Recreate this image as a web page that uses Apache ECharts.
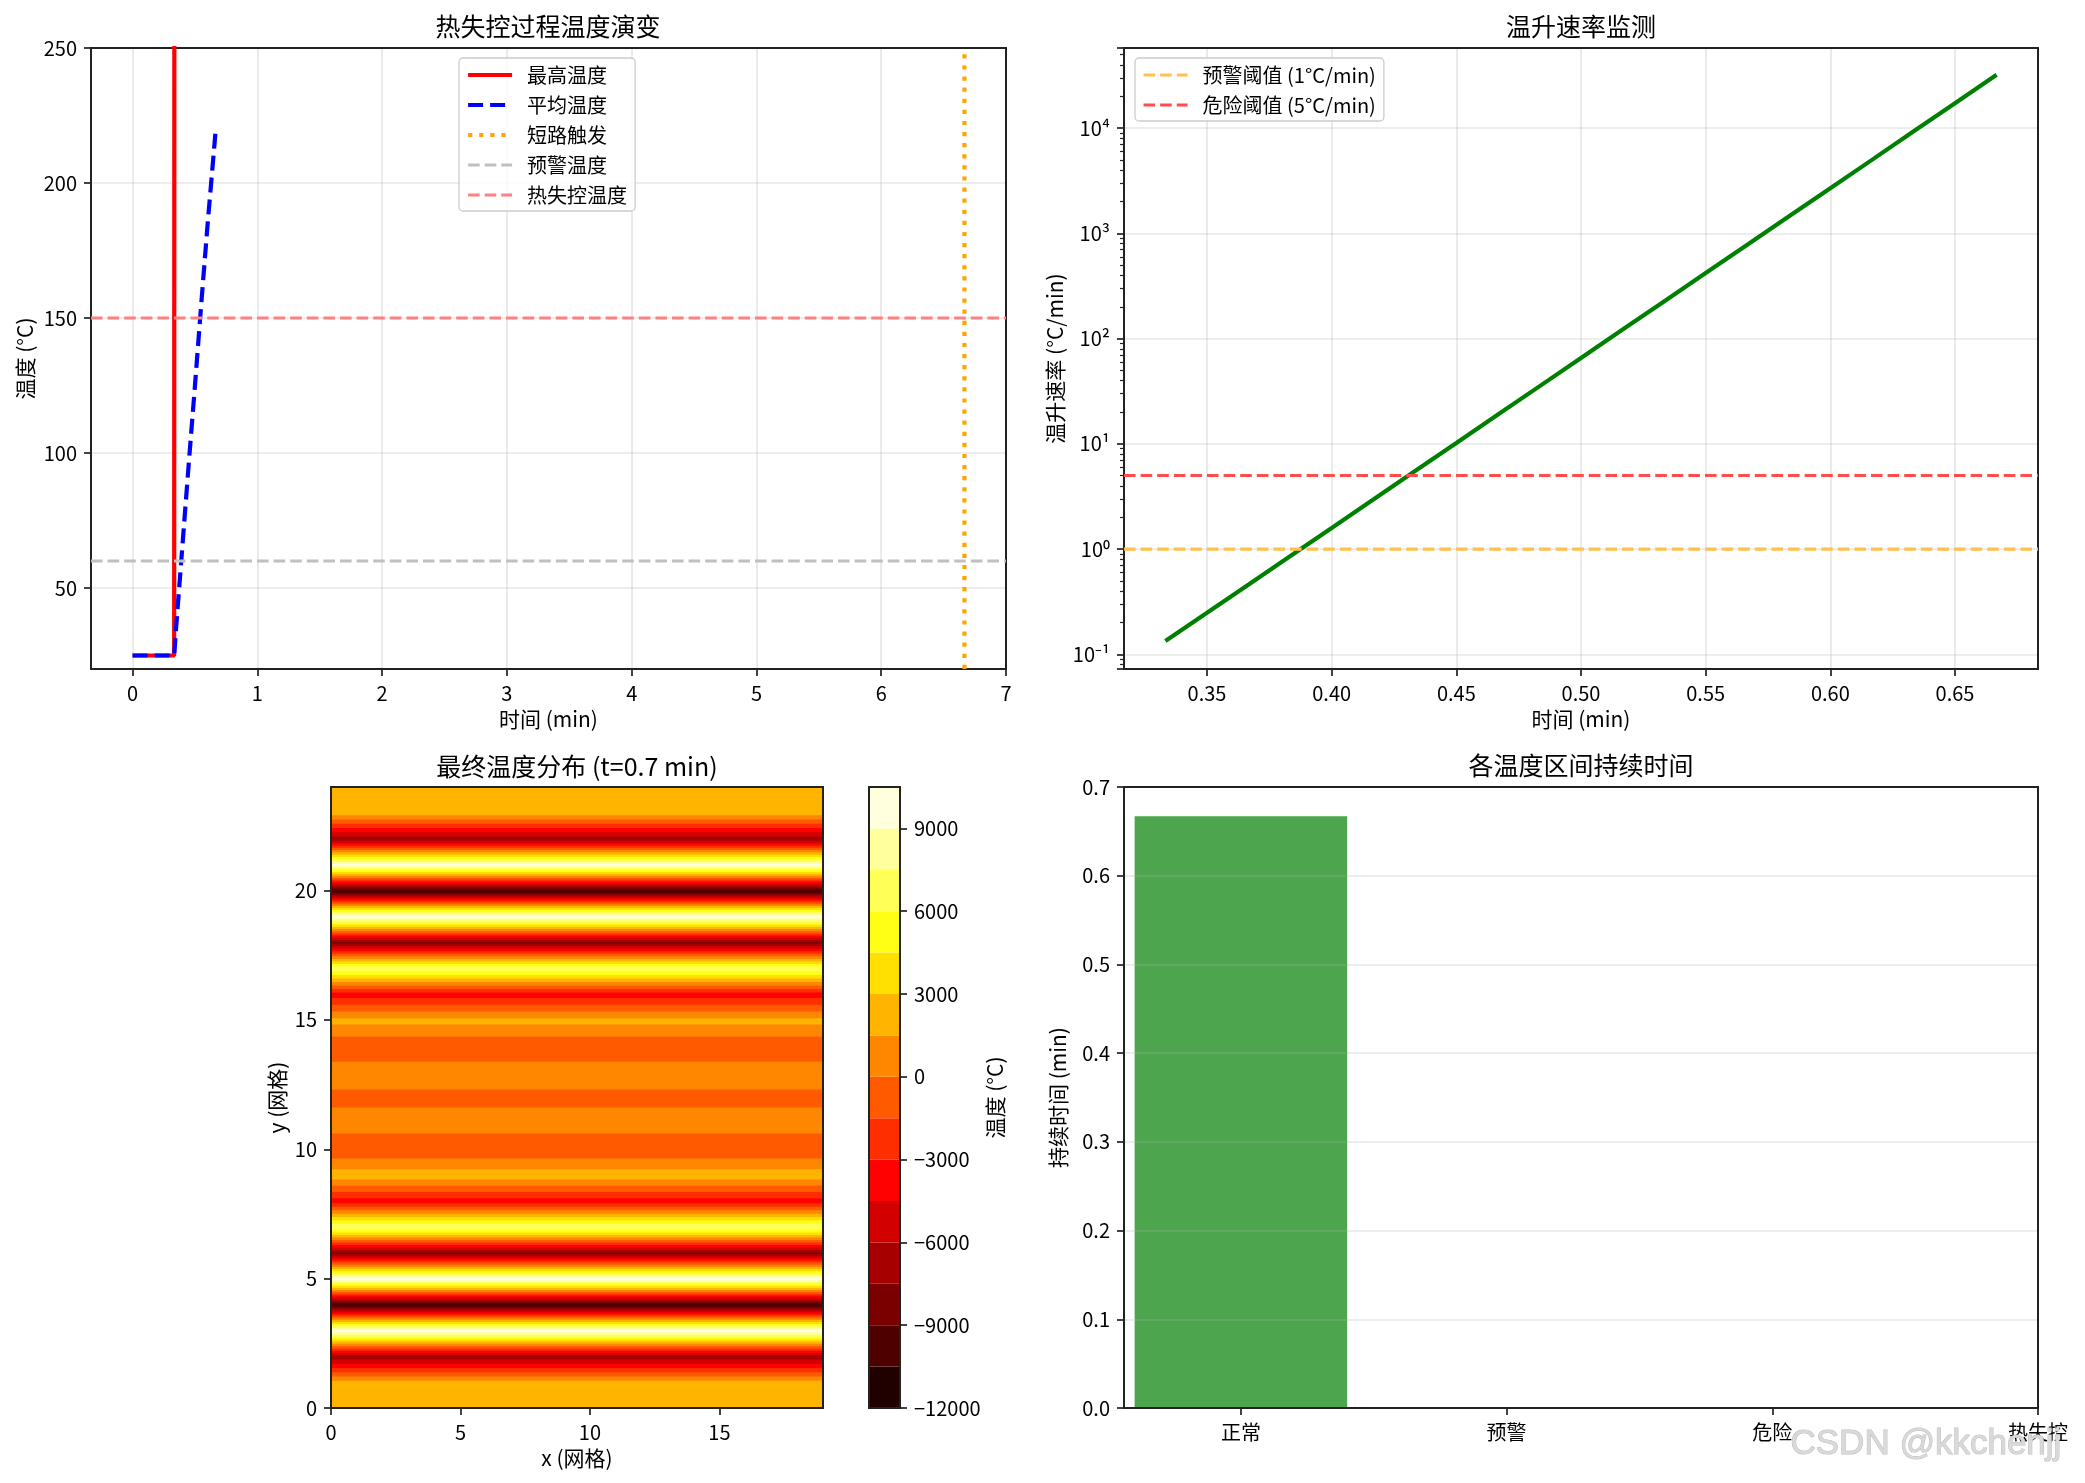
<!DOCTYPE html>
<html>
<head>
<meta charset="utf-8">
<title>热失控仿真</title>
<script src="https://cdn.jsdelivr.net/npm/echarts@6.0.0/dist/echarts.min.js"></script>
<style>
  html, body { margin: 0; padding: 0; background: #fff; }
  #chart { width: 2085px; height: 1483px; }
</style>
</head>
<body>
<div id="chart"></div>
<script>
// ---------- data ----------
// 热失控过程温度演变
const timeMax = [0, 0.3333, 0.35];
const tempMax = [25, 25, 3000];
const timeAvg = [0, 0.3333, 0.35, 0.40, 0.45, 0.50, 0.55, 0.60, 0.6667];
const tempAvg = [25, 25, 36, 66, 96, 125, 155, 184, 220];
const shortCircuitTime = 6.667;
const warnTemp = 60;
const runawayTemp = 150;
const tempXTicks = [0, 1, 2, 3, 4, 5, 6, 7];
const tempYTicks = [50, 100, 150, 200, 250];

// 温升速率监测
const rateTime = [0.3333, 0.35, 0.3667, 0.3833, 0.40, 0.4167, 0.4333, 0.45, 0.4667, 0.4833, 0.50,
                  0.5167, 0.5333, 0.55, 0.5667, 0.5833, 0.60, 0.6167, 0.6333, 0.65, 0.6667];
const rateValue = [0.134, 0.248, 0.461, 0.857, 1.59, 2.96, 5.50, 10.2, 19.0, 35.2, 65.5,
                   122, 226, 420, 780, 1449, 2692, 5000, 9290, 17260, 32140];
const warnRate = 1;
const dangerRate = 5;
const rateXTicks = [0.35, 0.40, 0.45, 0.50, 0.55, 0.60, 0.65];

// 最终温度分布 (每一行 y 的温度)
const gridX = [0, 19];
const gridY = [0, 1, 2, 3, 4, 5, 6, 7, 8, 9, 10, 11, 12, 13, 14, 15, 16, 17, 18, 19, 20, 21, 22, 23, 24];
const rowTemp = [2200, 2200, -7000, 10000, -10400, 10000, -8000, 7500, -3800, 2400, -1200, 700, -400,
                 800, -1200, 2000, -3800, 7200, -8000, 10000, -10400, 9800, -7000, 2200, 2200];
const cbLevels = [-12000, -10500, -9000, -7500, -6000, -4500, -3000, -1500, 0,
                  1500, 3000, 4500, 6000, 7500, 9000, 10500];
const mapXTicks = [0, 5, 10, 15];
const mapYTicks = [0, 5, 10, 15, 20];
const cbTicks = [-12000, -9000, -6000, -3000, 0, 3000, 6000, 9000];

// 各温度区间持续时间
const zoneNames = ['正常', '预警', '危险', '热失控'];
const zoneDuration = [0.667, 0, 0, 0];
const zoneTicks = [0, 1, 2, 3];

// ---------- styles ----------
const FONT = '"Noto Sans CJK SC", "Noto Sans", sans-serif';
const AX = '#222';
const GRIDC = 'rgba(176,176,176,0.3)';
const hotColors = ['#210000', '#4e0000', '#7a0000', '#a70000', '#d30000', '#ff0100', '#ff2e00', '#ff5a00',
                   '#ff8700', '#ffb400', '#ffe000', '#ffff15', '#ffff58', '#ffff9b', '#ffffde'];

function bandColor(v) {
  for (let i = 0; i + 1 < cbLevels.length; i++) {
    if (v >= cbLevels[i] && v < cbLevels[i + 1]) return hotColors[i];
  }
  return v < cbLevels[0] ? hotColors[0] : hotColors[hotColors.length - 1];
}

function minusFmt(v) {
  return v < 0 ? '\u2212' + Math.abs(v) : String(v);
}

const supDigits = { '-': '\u207b', '0': '\u2070', '1': '\u00b9', '2': '\u00b2', '3': '\u00b3', '4': '\u2074',
                    '5': '\u2075', '6': '\u2076', '7': '\u2077', '8': '\u2078', '9': '\u2079' };
function logFmt(v) {
  const e = Math.log10(v);
  if (Math.abs(e - Math.round(e)) > 1e-6) return '';
  return '10' + String(Math.round(e)).split('').map(c => supDigits[c]).join('');
}

function axis(gridIndex, min, max, ticks, name, nameGap, extra) {
  const a = {
    type: 'value', gridIndex: gridIndex, min: min, max: max,
    name: name, nameLocation: 'middle', nameGap: nameGap,
    nameTextStyle: { color: '#000', fontSize: 21, fontFamily: FONT },
    axisLine: { show: true, onZero: false, lineStyle: { color: AX, width: 1.7 } },
    axisTick: { show: true, inside: false, length: 7, lineStyle: { color: AX, width: 1.7 } },
    axisLabel: { color: '#000', fontSize: 20, fontFamily: FONT, margin: 14 },
    splitLine: { show: true, lineStyle: { color: GRIDC, width: 1.7 } }
  };
  if (ticks) {
    a.axisTick.customValues = ticks;
    a.axisLabel.customValues = ticks;
  }
  if (extra) {
    Object.keys(extra).forEach(k => {
      if (typeof extra[k] === 'object' && !Array.isArray(extra[k]) && a[k]) Object.assign(a[k], extra[k]);
      else a[k] = extra[k];
    });
  }
  return a;
}

const lineSeries = (name, xi, yi, xs, ys, color, width, type, z) => ({
  name: name, type: 'line', xAxisIndex: xi, yAxisIndex: yi,
  data: xs.map((x, i) => [x, ys[i]]),
  symbol: 'none', clip: true, z: z || 2,
  lineStyle: { color: color, width: width, type: type || 'solid' },
  itemStyle: { color: color }
});

const p1X = [-0.3333, 7];
const p1Y = [20, 250];
const p2X = [0.3167, 0.6833];

const mapSegments = [];
for (let j = 0; j + 1 < gridY.length; j++) {
  mapSegments.push([gridY[j], gridY[j + 1], rowTemp[j], rowTemp[j + 1]]);
}
const cbBands = [];
for (let i = 0; i + 1 < cbLevels.length; i++) cbBands.push([cbLevels[i], cbLevels[i + 1]]);

const legendCommon = {
  orient: 'vertical', itemWidth: 44, itemHeight: 14, itemGap: 10, z: 20,
  padding: [7, 8, 6, 7], backgroundColor: 'rgba(255,255,255,0.8)',
  borderColor: '#cccccc', borderWidth: 1.3, borderRadius: 4, selectedMode: false,
  itemStyle: { opacity: 0, color: 'rgba(0,0,0,0)', borderWidth: 0 },
  textStyle: { fontSize: 20, lineHeight: 20, fontFamily: FONT, color: '#000', padding: [0, 0, 0, 10] }
};
const legendItem = (name, width) => ({ name: name, lineStyle: { width: width } });

const titleStyle = { fontSize: 25, fontWeight: 'normal', color: '#000', fontFamily: FONT };
const frame = { show: true, borderColor: AX, borderWidth: 2, backgroundColor: 'transparent', z: 3, outerBoundsMode: 'none' };

const option = {
  animation: false,
  backgroundColor: '#fff',
  textStyle: { fontFamily: FONT },
  title: [
    { text: '热失控过程温度演变', left: 548, top: 14, textAlign: 'center', padding: 0, textStyle: titleStyle },
    { text: '温升速率监测', left: 1581, top: 14, textAlign: 'center', padding: 0, textStyle: titleStyle },
    { text: '最终温度分布 (t=0.7 min)', left: 577, top: 754, textAlign: 'center', padding: 0, textStyle: titleStyle },
    { text: '各温度区间持续时间', left: 1581, top: 753, textAlign: 'center', padding: 0, textStyle: titleStyle }
  ],
  legend: [
    Object.assign({ left: 459, top: 58, data: [
      legendItem('最高温度', 4.2), legendItem('平均温度', 4.2), legendItem('短路触发', 4.2),
      legendItem('预警温度', 3.1), legendItem('热失控温度', 3.1)] }, legendCommon),
    Object.assign({ left: 1135, top: 58, data: [
      legendItem('预警阈值 (1°C/min)', 3.1), legendItem('危险阈值 (5°C/min)', 3.1)] }, legendCommon)
  ],
  grid: [
    Object.assign({ left: 91, top: 48, width: 915, height: 621 }, frame),
    Object.assign({ left: 1124, top: 48, width: 914, height: 621 }, frame),
    Object.assign({ left: 331, top: 787, width: 492, height: 621 }, frame),
    Object.assign({ left: 869, top: 787, width: 31, height: 621 }, frame),
    Object.assign({ left: 1124, top: 787, width: 914, height: 621 }, frame)
  ],
  xAxis: [
    axis(0, p1X[0], p1X[1], tempXTicks, '时间 (min)', 40),
    axis(1, p2X[0], p2X[1], rateXTicks, '时间 (min)', 40, { axisLabel: { formatter: v => v.toFixed(2) } }),
    axis(2, gridX[0], gridX[1], mapXTicks, 'x (网格)', 40, { splitLine: { show: false } }),
    { type: 'value', gridIndex: 3, min: 0, max: 1, show: false },
    axis(4, -0.44, 3, zoneTicks, '', 40, { splitLine: { show: false }, axisLabel: { formatter: v => zoneNames[Math.round(v)] } })
  ],
  yAxis: [
    axis(0, p1Y[0], p1Y[1], tempYTicks, '温度 (°C)', 55),
    axis(1, 0.0726, 57800, null, '温升速率 (°C/min)', 58, {
      type: 'log', logBase: 10,
      axisLabel: { formatter: logFmt, showMinLabel: true, showMaxLabel: true },
      minorTick: { show: true, splitNumber: 9, length: 4, lineStyle: { color: AX, width: 1.2 } },
      minorSplitLine: { show: false }
    }),
    axis(2, gridY[0], gridY[gridY.length - 1], mapYTicks, 'y (网格)', 43, { splitLine: { show: false } }),
    axis(3, cbLevels[0], cbLevels[cbLevels.length - 1], cbTicks, '温度 (°C)', 82, {
      position: 'right', nameRotate: 90, splitLine: { show: false }, axisLabel: { formatter: minusFmt }
    }),
    axis(4, 0, 0.7, null, '持续时间 (min)', 55, { z: 2, interval: 0.1, axisLabel: { formatter: v => v.toFixed(1) } })
  ],
  series: [
    lineSeries('最高温度', 0, 0, timeMax, tempMax, '#ff0000', 4.2, 'solid', 3),
    lineSeries('平均温度', 0, 0, timeAvg, tempAvg, '#0000ff', 4.2, [15, 7], 4),
    lineSeries('短路触发', 0, 0, [shortCircuitTime, shortCircuitTime], p1Y, '#ffa500', 4.2, [4.2, 6.9], 5),
    lineSeries('预警温度', 0, 0, p1X, [warnTemp, warnTemp], '#c0c0c0', 3.1, [11.6, 5], 5),
    lineSeries('热失控温度', 0, 0, p1X, [runawayTemp, runawayTemp], '#ff8080', 3.1, [11.6, 5], 5),

    lineSeries('rate', 1, 1, rateTime, rateValue, '#008000', 4.2, 'solid', 3),
    lineSeries('预警阈值 (1°C/min)', 1, 1, p2X, [warnRate, warnRate], '#ffc04d', 3.1, [11.6, 5], 4),
    lineSeries('危险阈值 (5°C/min)', 1, 1, p2X, [dangerRate, dangerRate], '#ff4d4d', 3.1, [11.6, 5], 4),

    {
      type: 'custom', xAxisIndex: 2, yAxisIndex: 2, clip: true, z: 1,
      data: mapSegments,
      renderItem: function (params, api) {
        const y0 = api.value(0), y1 = api.value(1), v0 = api.value(2), v1 = api.value(3);
        const ts = [0, 1];
        cbLevels.forEach(L => { if ((L - v0) * (L - v1) < 0) ts.push((L - v0) / (v1 - v0)); });
        ts.sort((a, b) => a - b);
        const children = [];
        for (let k = 0; k + 1 < ts.length; k++) {
          const vm = v0 + (v1 - v0) * (ts[k] + ts[k + 1]) / 2;
          const lo = api.coord([gridX[0], y0 + (y1 - y0) * ts[k]]);
          const hi = api.coord([gridX[1], y0 + (y1 - y0) * ts[k + 1]]);
          children.push({
            type: 'rect',
            shape: { x: lo[0], y: hi[1] - 0.5, width: hi[0] - lo[0], height: lo[1] - hi[1] + 1 },
            style: { fill: bandColor(vm) }
          });
        }
        return { type: 'group', children: children };
      }
    },
    {
      type: 'custom', xAxisIndex: 3, yAxisIndex: 3, z: 1,
      data: cbBands,
      renderItem: function (params, api) {
        const lo = api.coord([0, api.value(0)]);
        const hi = api.coord([1, api.value(1)]);
        return {
          type: 'rect',
          shape: { x: lo[0], y: hi[1], width: hi[0] - lo[0], height: lo[1] - hi[1] },
          style: { fill: bandColor((api.value(0) + api.value(1)) / 2) }
        };
      }
    },
    {
      type: 'custom', xAxisIndex: 4, yAxisIndex: 4, z: 1,
      data: zoneDuration.map((d, i) => [i, d]),
      renderItem: function (params, api) {
        const barW = 0.8;
        const p0 = api.coord([api.value(0) - barW / 2, api.value(1)]);
        const p1 = api.coord([api.value(0) + barW / 2, 0]);
        return {
          type: 'rect',
          shape: { x: p0[0], y: p0[1], width: p1[0] - p0[0], height: p1[1] - p0[1] },
          style: { fill: '#4da64d' }
        };
      }
    }
  ],
  graphic: [
    {
      type: 'text', left: 1790, top: 1426, z: 100,
      style: { text: 'CSDN @kkchenjj', fontSize: 35, fontFamily: '"Liberation Sans", Arial, sans-serif',
               fill: '#d9d9d9', stroke: '#bdbdbd', lineWidth: 1 }
    }
  ]
};

const chart = echarts.init(document.getElementById('chart'), null, { renderer: 'canvas' });
chart.setOption(option);
</script>
</body>
</html>
